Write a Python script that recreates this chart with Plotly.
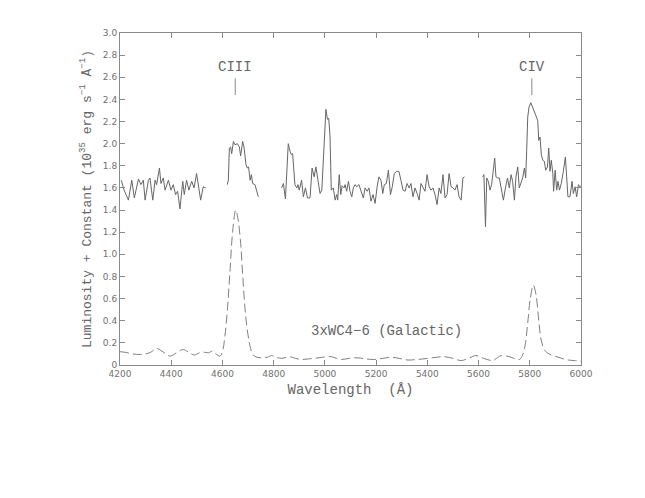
import plotly.graph_objects as go

# ---------------- data ----------------
seg1_wl = [4205, 4216, 4233, 4246, 4256, 4272, 4282, 4291, 4298, 4311, 4317, 4328, 4337, 4343,
           4354, 4360, 4369, 4376, 4389, 4399, 4408, 4417, 4425, 4434, 4445, 4451, 4460, 4469,
           4480, 4489, 4499, 4506, 4515, 4525, 4535]
seg1_fl = [1.67, 1.58, 1.49, 1.67, 1.51, 1.68, 1.63, 1.67, 1.49, 1.67, 1.69, 1.49, 1.67, 1.63,
           1.78, 1.64, 1.69, 1.58, 1.67, 1.58, 1.63, 1.54, 1.57, 1.41, 1.66, 1.54, 1.67, 1.58,
           1.66, 1.60, 1.73, 1.64, 1.49, 1.61, 1.60]

seg2_wl = [4619, 4623, 4627, 4632, 4636, 4643, 4649, 4658, 4666, 4671, 4679, 4684, 4692, 4697,
           4702, 4708, 4713, 4718, 4727, 4734, 4740]
seg2_fl = [1.63, 1.67, 1.96, 1.97, 1.91, 2.02, 1.99, 2.00, 1.97, 1.89, 2.02, 1.97, 1.81, 1.78,
           1.79, 1.67, 1.72, 1.64, 1.63, 1.58, 1.52]

seg3_wl = [4831, 4838, 4846, 4857, 4864, 4869, 4874, 4883, 4890, 4895, 4900, 4909, 4916, 4924,
           4932, 4942, 4950, 4958, 4965, 4972, 4981, 4988, 5004, 5010, 5015, 5020, 5025, 5033,
           5040, 5046, 5050, 5056, 5062, 5067, 5075, 5079, 5085, 5092, 5098, 5105, 5111, 5118,
           5124, 5133, 5141, 5150, 5157, 5165, 5172, 5180, 5188, 5196, 5204, 5211, 5219, 5226,
           5232, 5240, 5248, 5256, 5263, 5271, 5280, 5289, 5297, 5305, 5313, 5321, 5329, 5336,
           5344, 5352, 5360, 5368, 5375, 5383, 5391, 5399, 5407, 5414, 5422, 5430, 5438, 5446,
           5453, 5461, 5469, 5477, 5485, 5493, 5500, 5508, 5516, 5524, 5532, 5539, 5545]
seg3_fl = [1.60, 1.64, 1.50, 2.00, 1.93, 1.90, 1.91, 1.63, 1.60, 1.63, 1.58, 1.67, 1.52, 1.60,
           1.51, 1.51, 1.78, 1.70, 1.79, 1.70, 1.55, 1.58, 2.31, 2.22, 2.23, 2.07, 1.58, 1.60,
           1.49, 1.54, 1.49, 1.72, 1.54, 1.62, 1.60, 1.63, 1.57, 1.66, 1.57, 1.52, 1.60, 1.63,
           1.61, 1.63, 1.58, 1.51, 1.60, 1.57, 1.60, 1.48, 1.54, 1.46, 1.61, 1.70, 1.67, 1.55,
           1.63, 1.64, 1.76, 1.54, 1.61, 1.73, 1.75, 1.75, 1.67, 1.58, 1.57, 1.64, 1.60, 1.64,
           1.52, 1.60, 1.55, 1.49, 1.64, 1.60, 1.57, 1.72, 1.61, 1.58, 1.60, 1.54, 1.45, 1.60,
           1.55, 1.72, 1.51, 1.54, 1.73, 1.61, 1.60, 1.58, 1.63, 1.52, 1.49, 1.69, 1.70]

seg4_wl = [5616, 5621, 5627, 5632, 5638, 5645, 5651, 5658, 5663, 5668, 5675, 5681, 5689, 5697,
           5705, 5713, 5720, 5727, 5733, 5740, 5746, 5753, 5759, 5766, 5772, 5779, 5784, 5788,
           5792, 5797, 5804, 5811, 5819, 5826, 5831, 5835, 5840, 5845, 5851, 5857, 5862, 5869,
           5874, 5879, 5884, 5890, 5893, 5899, 5905, 5910, 5916, 5923, 5931, 5939, 5944, 5949,
           5957, 5965, 5970, 5977, 5983, 5990, 5996, 6000]
seg4_fl = [1.70, 1.72, 1.25, 1.69, 1.66, 1.58, 1.63, 1.76, 1.87, 1.70, 1.69, 1.69, 1.58, 1.49,
           1.60, 1.69, 1.60, 1.72, 1.66, 1.49, 1.70, 1.79, 1.60, 1.66, 1.69, 1.78, 1.69, 1.94,
           2.24, 2.33, 2.37, 2.33, 2.29, 2.24, 2.21, 2.03, 2.06, 1.90, 1.85, 1.84, 1.76, 1.79,
           1.96, 1.75, 1.85, 1.73, 1.57, 1.76, 1.58, 1.66, 1.58, 1.64, 1.75, 1.88, 1.70, 1.52,
           1.52, 1.66, 1.55, 1.61, 1.52, 1.63, 1.61, 1.62]

tmpl_wl = [4200, 4220, 4250, 4280, 4300, 4320, 4343, 4360, 4380, 4395, 4410, 4430, 4447, 4465,
           4490, 4510, 4530, 4545, 4560, 4575, 4590, 4600, 4610, 4620, 4630, 4640, 4652, 4660,
           4670, 4680, 4690, 4700, 4710, 4720, 4735, 4755, 4775, 4792, 4810, 4831, 4850, 4863,
           4885, 4908, 4935, 4960, 4990, 5025, 5045, 5064, 5095, 5129, 5160, 5194, 5225, 5259,
           5290, 5324, 5360, 5402, 5435, 5467, 5500, 5532, 5560, 5590, 5620, 5655, 5670, 5688,
           5710, 5727, 5745, 5760, 5772, 5782, 5792, 5802, 5814, 5824, 5836, 5845, 5859, 5875,
           5898, 5925, 5950, 5975, 6000]
tmpl_fl = [0.12, 0.115, 0.10, 0.095, 0.10, 0.115, 0.15, 0.13, 0.10, 0.08, 0.095, 0.125, 0.14, 0.12,
           0.09, 0.11, 0.115, 0.11, 0.125, 0.10, 0.08, 0.12, 0.27, 0.52, 0.87, 1.21, 1.40, 1.33,
           1.13, 0.78, 0.46, 0.27, 0.15, 0.09, 0.07, 0.065, 0.07, 0.085, 0.07, 0.06, 0.07, 0.075,
           0.06, 0.05, 0.055, 0.06, 0.07, 0.075, 0.06, 0.05, 0.06, 0.065, 0.055, 0.05, 0.06, 0.07,
           0.06, 0.045, 0.05, 0.06, 0.07, 0.075, 0.06, 0.04, 0.06, 0.085, 0.06, 0.04, 0.06, 0.085,
           0.08, 0.07, 0.055, 0.05, 0.09, 0.18, 0.38, 0.60, 0.72, 0.64, 0.38, 0.22, 0.13, 0.10,
           0.08, 0.06, 0.045, 0.04, 0.035]

line_names = ["CIII", "CIV"]
line_wl = [4650, 5808]

x_ticks = [4200, 4400, 4600, 4800, 5000, 5200, 5400, 5600, 5800, 6000]
y_ticks = [0, 0.2, 0.4, 0.6, 0.8, 1.0, 1.2, 1.4, 1.6, 1.8, 2.0, 2.2, 2.4, 2.6, 2.8, 3.0]
y_ticktext = ["0"] + ["%.1f" % v for v in y_ticks[1:]]

# ---------------- figure ----------------
GRAY = "#666666"
AXC = "#8a8a8a"
FONT = "Liberation Mono"

fig = go.Figure()
for wl, fl in [(seg1_wl, seg1_fl), (seg2_wl, seg2_fl), (seg3_wl, seg3_fl), (seg4_wl, seg4_fl)]:
    fig.add_trace(go.Scatter(x=wl, y=fl, mode="lines", line=dict(color="#666666", width=1),
                             showlegend=False, hoverinfo="skip"))
fig.add_trace(go.Scatter(x=tmpl_wl, y=tmpl_fl, mode="lines", line_shape="spline",
                         line=dict(color="#808080", width=1, dash="9px,4px"),
                         showlegend=False, hoverinfo="skip"))

for name, wl in zip(line_names, line_wl):
    fig.add_annotation(x=wl, y=2.69, text=name, showarrow=False, xref="x", yref="y",
                       font=dict(family=FONT, size=14, color=GRAY))
    fig.add_shape(type="line", x0=wl, x1=wl, y0=2.44, y1=2.59, xref="x", yref="y",
                  line=dict(color=AXC, width=1))

fig.add_annotation(x=5240, y=0.31, text="3xWC4\u22126 (Galactic)", showarrow=False,
                   xref="x", yref="y", font=dict(family=FONT, size=14, color=GRAY))

axis_common = dict(showgrid=False, zeroline=False, showline=True, linecolor=AXC, linewidth=1,
                   mirror="ticks", ticks="inside", ticklen=5, tickcolor=AXC, tickwidth=1,
                   tickfont=dict(family="DejaVu Sans", size=9, color="#707070"))

fig.update_xaxes(range=[4200, 6000], tickvals=x_ticks, ticktext=[str(v) for v in x_ticks],
                 title=dict(text="Wavelength  (\u00c5)", font=dict(family=FONT, size=14, color=GRAY),
                            standoff=6),
                 **axis_common)
fig.update_yaxes(range=[0, 3.0], tickvals=y_ticks, ticktext=y_ticktext,
                 title=dict(text="Luminosity + Constant (10<sup>35</sup> erg s<sup>\u22121</sup> \u00c5<sup>\u22121</sup>)",
                            font=dict(family=FONT, size=13, color=GRAY), standoff=8),
                 **axis_common)

fig.update_layout(width=645, height=498, margin=dict(l=112, r=72, t=25, b=141),
                  paper_bgcolor="white", plot_bgcolor="white")

fig.write_html("out.html")
